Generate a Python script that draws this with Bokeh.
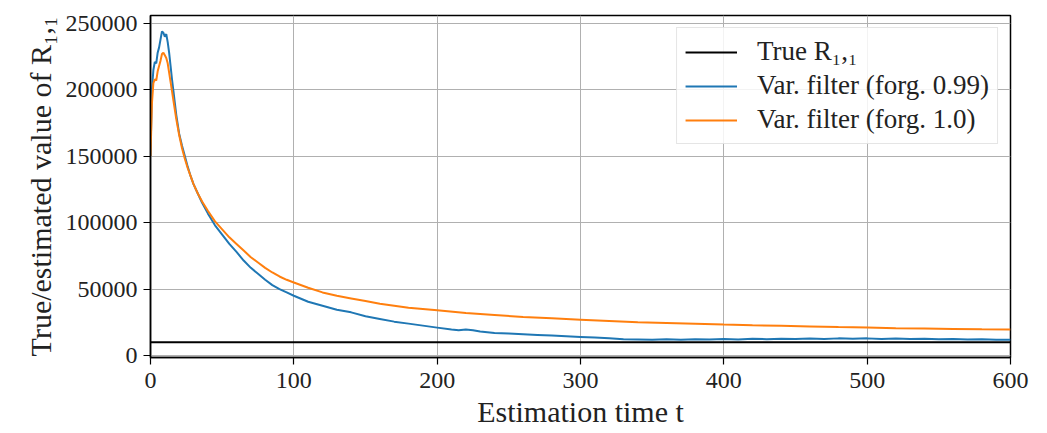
from bokeh.plotting import figure
from bokeh.models import FixedTicker, BasicTickFormatter, Legend, LegendItem, Range1d
from bokeh.embed import file_html
from bokeh.resources import INLINE

# ---- data ----
t_blue = [0, 1, 2, 3, 4, 5, 6, 7, 8, 9, 10, 11, 12, 13, 14, 15, 16, 17, 18, 19, 20,
          22, 24, 26, 28, 30, 33, 36, 40, 45, 50, 55, 60, 65, 70, 75, 80, 85, 90, 95, 100,
          110, 120, 130, 140, 150, 160, 170, 180, 190, 200, 210, 215, 220, 225, 230, 240,
          250, 260, 270, 280, 290, 300, 310, 320, 330, 340, 350, 360, 370, 380, 390, 400,
          410, 420, 430, 440, 450, 460, 470, 480, 490, 500, 510, 520, 530, 540, 550, 560,
          570, 580, 590, 600]
v_blue = [150000, 200000, 215000, 221000, 220000, 228000, 232000, 238000, 244000, 243000,
          240000, 242000, 236000, 228000, 218000, 208000, 199000, 190000, 181000, 174000, 167000,
          158000, 150000, 142000, 135000, 129000, 122000, 115000, 107000, 98000, 91000, 84000,
          78000, 71500, 66000, 61500, 57000, 53000, 50000, 47500, 45000,
          40500, 37500, 34500, 32500, 29500, 27500, 25500, 24000, 22500, 21000, 19500, 19000,
          19500, 19000, 18000, 17000,
          16500, 16000, 15500, 15000, 14500, 14000, 13500, 13000, 12200, 12000, 11800, 12200,
          11800, 12300, 12000, 12400,
          12100, 12600, 12300, 12700, 12400, 12800, 12500, 12900, 12600, 12900, 12500, 12800,
          12400, 12600, 12200, 12400,
          12000, 12200, 11800, 11900]

t_orange = [0, 1, 2, 3, 4, 5, 6, 7, 8, 9, 10, 11, 12, 13, 14, 15, 16, 17, 18, 19, 20,
            22, 24, 26, 28, 30, 33, 36, 40, 45, 50, 55, 60, 65, 70, 75, 80, 85, 90, 95, 100,
            110, 120, 130, 140, 150, 160, 170, 180, 190, 200, 220, 240, 260, 280, 300, 320,
            340, 360, 380, 400, 420, 440, 460, 480, 500, 520, 540, 560, 580, 600]
v_orange = [150000, 190000, 205000, 208000, 207000, 214000, 218000, 222000, 227000, 228000,
            226000, 224000, 220000, 213000, 206000, 199000, 192000, 185000, 178000, 172000, 166000,
            156000, 148000, 141000, 135000, 129000, 122000, 116000, 109000, 101000, 95000, 89000,
            84000, 79000, 74000, 70000, 66000, 62500, 59500, 57000, 55000,
            51000, 47500, 45000, 43000, 41000, 39000, 37500, 36000, 35000, 34000, 32000, 30500,
            29000, 28000, 27000, 26000,
            25000, 24500, 24000, 23300, 22800, 22400, 21900, 21400, 21000, 20600, 20300, 20000,
            19700, 19500]

t_true = [0, 600]
v_true = [10000, 10000]

x_ticks = [0, 100, 200, 300, 400, 500, 600]
y_ticks = [0, 50000, 100000, 150000, 200000, 250000]

labels = ["True R\u2081,\u2081", "Var. filter (forg. 0.99)", "Var. filter (forg. 1.0)"]

FONT = "Liberation Serif"

p = figure(width=1047, height=433, output_backend="svg", toolbar_location=None,
           x_range=Range1d(0, 600), y_range=Range1d(-1500, 256000))
p.min_border_left = 150
p.min_border_right = 37
p.min_border_top = 15
p.min_border_bottom = 76

p.outline_line_color = "black"
p.outline_line_width = 1.5
p.outline_line_alpha = 1.0

r_true = p.line(t_true, v_true, line_color="black", line_width=2.2)
r_blue = p.line(t_blue, v_blue, line_color="#1f77b4", line_width=2)
r_orange = p.line(t_orange, v_orange, line_color="#ff7f0e", line_width=2)

p.xaxis.ticker = FixedTicker(ticks=x_ticks)
p.yaxis.ticker = FixedTicker(ticks=y_ticks)
p.yaxis.formatter = BasicTickFormatter(use_scientific=False)

for ax in (p.xaxis[0], p.yaxis[0]):
    ax.axis_line_color = "black"
    ax.axis_line_width = 1.5
    ax.major_tick_line_color = "black"
    ax.major_tick_line_width = 1.2
    ax.major_tick_out = 7
    ax.major_tick_in = 0
    ax.minor_tick_line_color = None
    ax.major_label_text_font = FONT
    ax.major_label_text_font_size = "24px"
    ax.major_label_text_color = "#222222"
    ax.axis_label_text_font = FONT
    ax.axis_label_text_font_size = "30px"
    ax.axis_label_text_font_style = "normal"
    ax.axis_label_text_color = "#222222"

p.xaxis.axis_label = "Estimation time t"
p.yaxis.axis_label = "True/estimated value of R\u2081,\u2081"
p.xaxis.major_label_standoff = 8
p.yaxis.major_label_standoff = 6
p.xaxis.axis_label_standoff = 4
p.yaxis.axis_label_standoff = 6

p.xgrid.grid_line_color = "#b0b0b0"
p.ygrid.grid_line_color = "#b0b0b0"
p.xgrid.grid_line_width = 1
p.ygrid.grid_line_width = 1

legend = Legend(items=[LegendItem(label=labels[0], renderers=[r_true]),
                       LegendItem(label=labels[1], renderers=[r_blue]),
                       LegendItem(label=labels[2], renderers=[r_orange])],
                location="top_right")
legend.label_text_font = FONT
legend.label_text_font_size = "27px"
legend.label_text_color = "#222222"
legend.glyph_width = 52
legend.glyph_height = 28
legend.label_height = 28
legend.label_standoff = 20
legend.spacing = 3
legend.padding = 8
legend.margin = 12
legend.border_line_color = "#cccccc"
legend.border_line_width = 1.2
legend.background_fill_alpha = 0.85
p.add_layout(legend)

open("out.html", "w").write(file_html(p, INLINE))
